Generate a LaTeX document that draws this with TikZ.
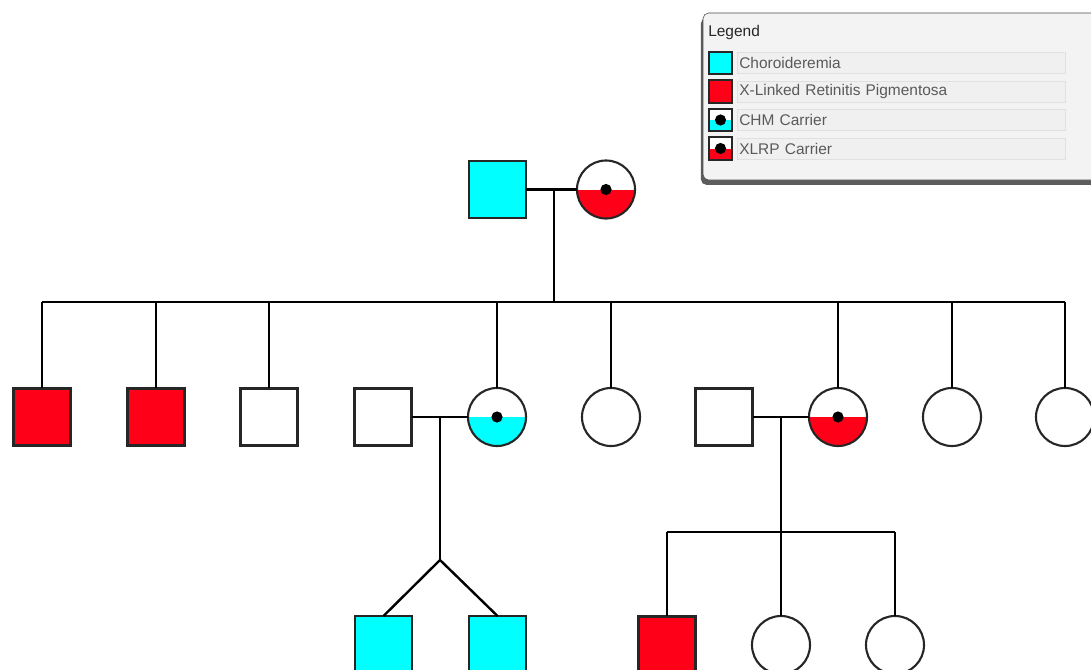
\documentclass[tikz,border=0pt]{standalone}
\usepackage{fontspec}
\setmainfont{Liberation Sans}
\usetikzlibrary{positioning, shadows}
\definecolor{ChmCyan}{HTML}{00FFFF}
\definecolor{XlrpRed}{HTML}{FF0019}
\definecolor{LegendBack}{HTML}{F3F3F3}
\definecolor{LegendRow}{HTML}{F0F0F0}
\definecolor{LegendRule}{HTML}{E0E0E0}
\definecolor{LegendText}{HTML}{5A5A5A}

\tikzset{
  person/.style={draw=black!85, line width=1.5pt, inner sep=0pt, outer sep=0pt},
  male/.style={person, rectangle, minimum size=1.425cm},
  female/.style={person, circle, minimum size=1.45cm},
  halffill/.style={path picture={
      \fill[#1] (path picture bounding box.west) rectangle (path picture bounding box.south east);
      \fill[black] (path picture bounding box.center) circle[radius=0.14cm];}},
  chmsq/.style={male, fill=ChmCyan},
  xlrpsq/.style={male, fill=XlrpRed},
  emptysq/.style={male, fill=white},
  emptycirc/.style={female, fill=white},
  chmcarrier/.style={female, fill=white, halffill=ChmCyan},
  xlrpcarrier/.style={female, fill=white, halffill=XlrpRed},
  link/.style={line width=1.7pt, black},
  legsq/.style={draw=black!85, line width=1.2pt, inner sep=0pt, minimum size=0.56cm},
  legrow/.style={draw=LegendRule, fill=LegendRow, anchor=west, text width=8.1cm,
      align=left, inner xsep=0.05cm, inner ysep=0pt, minimum height=0.52cm,
      text=LegendText, font=\fontsize{11}{13}\selectfont}
}

\begin{document}
\begin{tikzpicture}[x=0.025cm, y=-0.025cm]
  \useasboundingbox (0,0) rectangle (1091,670);
  \clip (0,0) rectangle (1091,670);
  \fill[white] (0,0) rectangle (1091,670);

  % legend
  \draw[draw=black!70, fill=LegendBack, rounded corners=4pt,
        drop shadow={shadow xshift=-1.5pt, shadow yshift=-3.5pt, fill=black!75, opacity=0.85}]
        (703,13) rectangle (1110,180);
  \node[anchor=west, text=black!85, inner sep=0pt, font=\fontsize{11}{13}\selectfont] (legtitle) at (708,33) {Legend};
  \node[legsq, fill=ChmCyan] (lchm) at (720.5,63) {};
  \node[legsq, fill=XlrpRed] (lxlrp) at (720.5,91.5) {};
  \node[legsq, fill=white, halffill=ChmCyan] (lchmc) at (720.5,120) {};
  \node[legsq, fill=white, halffill=XlrpRed] (lxlrpc) at (720.5,148.5) {};
  \node[legrow] (tchm) at (737,63) {Choroideremia};
  \node[legrow] (txlrp) at (737,91.5) {X-Linked Retinitis Pigmentosa};
  \node[legrow] (tchmc) at (737,120) {CHM Carrier};
  \node[legrow] (txlrpc) at (737,148.5) {XLRP Carrier};

  % first generation
  \node[chmsq] (gf) at (497.5,189.5) {};
  \node[xlrpcarrier] (gm) at (606,189.5) {};
  \draw[link] (gf) -- (gm);
  \coordinate (gmid) at (554,189.5);
  \coordinate (sibtop) at (554,302);
  \coordinate (sibL) at (42,302);
  \coordinate (sibR) at (1065,302);
  \draw[link] (gmid) -- (sibtop);
  \draw[link] (sibL) -- (sibR);

  % second generation
  \foreach \x/\kind/\name in {42/xlrpsq/ca, 156/xlrpsq/cb, 269/emptysq/cc, 497/chmcarrier/cd,
      611/emptycirc/ce, 838/xlrpcarrier/cf, 952/emptycirc/cg, 1065/emptycirc/ch} {
    \node[\kind] (\name) at (\x,417) {};
    \coordinate (d\name) at (\x,302);
    \draw[link] (d\name) -- (\name);
  }
  \node[emptysq] (sa) at (383,417) {};
  \node[emptysq] (sb) at (724,417) {};
  \draw[link] (sa) -- (cd);
  \draw[link] (sb) -- (cf);

  % twins
  \coordinate (ma) at (440,417);
  \coordinate (twin) at (440,560);
  \draw[link] (ma) -- (twin);
  \node[chmsq] (ta) at (383.5,644.5) {};
  \node[chmsq] (tb) at (497.5,644.5) {};
  \draw[link] (twin) -- (ta.north);
  \draw[link] (twin) -- (tb.north);

  % third generation
  \coordinate (mb) at (781,417);
  \coordinate (sibb) at (781,532);
  \coordinate (sibbL) at (667,532);
  \coordinate (sibbR) at (895,532);
  \draw[link] (mb) -- (sibb);
  \draw[link] (sibbL) -- (sibbR);
  \foreach \x/\kind/\name in {667/xlrpsq/ga, 781/emptycirc/gb, 895/emptycirc/gc} {
    \node[\kind] (\name) at (\x,645) {};
    \coordinate (d\name) at (\x,532);
    \draw[link] (d\name) -- (\name);
  }
\end{tikzpicture}
\end{document}
